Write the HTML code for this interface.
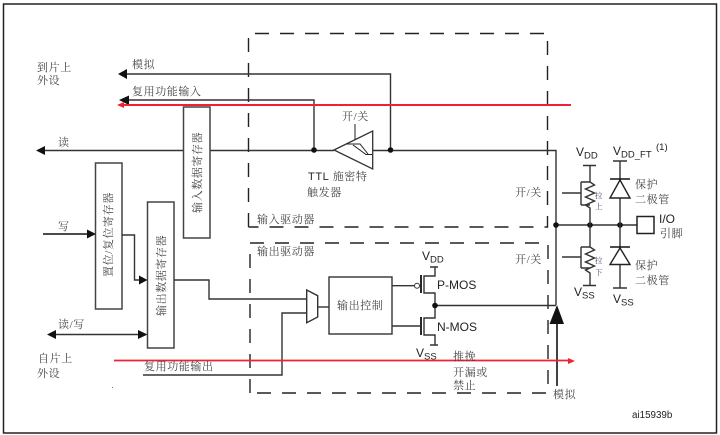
<!DOCTYPE html>
<html>
<head>
<meta charset="utf-8">
<style>
html,body{margin:0;padding:0;background:#fff;width:720px;height:435px;overflow:hidden}
svg{display:block;filter:blur(.3px)}
.z{font-family:"Liberation Serif","Noto Serif CJK SC",serif;font-size:11px;fill:#444;letter-spacing:.6px}
.s{font-family:"Liberation Sans",sans-serif;font-size:12px;fill:#222}
.sub{font-size:9.500px}
.l{fill:none;stroke:#333;stroke-width:1.400}
.k{fill:none;stroke:#111;stroke-width:1.600}
.d{fill:none;stroke:#222;stroke-width:1.400;stroke-dasharray:14 11}
.b{fill:#fff;stroke:#444;stroke-width:1.500}
.a{fill:#111;stroke:none}
</style>
</head>
<body>
<svg width="720" height="435" viewBox="0 0 720 435" xmlns="http://www.w3.org/2000/svg">
<rect width="720" height="435" fill="#fff"/>
<rect x="3.500" y="4" width="713" height="429" fill="none" stroke="#222" stroke-width="1.500"/>

<!-- dashed boxes -->
<path class="d" d="M248.500 227V33.500H547.500V227H248.500"/>
<path class="d" d="M250 393V243H548V393H250"/>

<!-- top connectors -->
<path class="l" d="M126 74H390.500V150"/>
<polygon class="a" points="118,74 127,69 127,79"/>
<path class="l" d="M127 100H314V150"/>
<polygon class="a" points="119,100 129,95.500 129,105"/>
<path class="l" d="M44 150.500H334M372 150.500H556V305"/>
<polygon class="a" points="36,150.500 45,146 45,155"/>
<circle cx="314" cy="150" r="2.800" fill="#111"/>
<circle cx="390.500" cy="150" r="2.800" fill="#111"/>

<!-- schmitt -->
<polygon points="334,150 372.700,131 372.700,169" fill="#fff" stroke="#333" stroke-width="1.300"/>
<path d="M355 124V140M346 144H360L368 154M353 145L366 154.500H372" fill="none" stroke="#222" stroke-width="1"/>

<!-- registers -->
<rect class="b" x="183.500" y="107" width="26.500" height="131"/>
<rect class="b" x="95.500" y="163" width="26.500" height="146"/>
<rect class="b" x="147.500" y="202" width="26.500" height="146"/>

<!-- left connectors -->
<path class="k" d="M43 234H88"/>
<polygon class="a" points="96,234 87,229.500 87,238.500"/>
<path class="l" d="M122 235H134.500V280H140"/>
<polygon class="a" points="147.500,280 139,275.500 139,284.500"/>
<path class="l" d="M54 334.500H140"/>
<polygon class="a" points="47,334.500 56,330 56,339"/>
<polygon class="a" points="147.500,334.500 138,330 138,339"/>
<path class="l" d="M174 280H209V299H306.500"/>
<path class="l" d="M143 375H282V313H306.500"/>
<rect x="112" y="387" width="1" height="1" fill="#777"/>

<!-- mux & control -->
<polygon points="306.700,290 317.700,295.700 317.700,317 306.700,322.700" fill="#fff" stroke="#333" stroke-width="1.400"/>
<path class="l" d="M317.700 307H329"/>
<rect x="329" y="277" width="63" height="57" fill="#fff" stroke="#333" stroke-width="1.400"/>

<!-- MOS -->
<path class="l" d="M392 285.700H415"/>
<circle cx="417" cy="285.700" r="2.500" fill="#fff" stroke="#333" stroke-width="1"/>
<path d="M421 275V293M421 317V335" fill="none" stroke="#111" stroke-width="1.800"/>
<path class="l" d="M430 267H438M435 267V276H424V293H435V318H424V335H435V345M430 345H438"/>
<path class="l" d="M392 326H421"/>
<path class="l" d="M435 305.500H556"/>
<circle cx="435" cy="305.500" r="2.800" fill="#111"/>

<!-- analog up arrow -->
<path class="k" d="M557 320V386"/>
<polygon class="a" points="557,305 549.500,324 564,324"/>

<!-- right rail -->
<path class="l" d="M556 225H637"/>
<rect x="637" y="216.500" width="17" height="17" fill="#fff" stroke="#222" stroke-width="1.500"/>
<circle cx="556" cy="225" r="2.800" fill="#111"/>
<circle cx="590" cy="225" r="2.800" fill="#111"/>
<circle cx="620" cy="225" r="2.800" fill="#111"/>

<!-- pull up/down -->
<path class="l" d="M583 165.500H596M590 165.500V182L594.500 185L585.500 189L594.500 193L585.500 197L594.500 201L585.500 205L590 208V225"/>
<path class="l" d="M562 193H581M581 182V205M581 182H590M581 205H590"/>
<path class="l" d="M590 225V247L594.500 250L585.500 254L594.500 258L585.500 262L594.500 266L585.500 270L590 273V285.500M583 285.500H596"/>
<path class="l" d="M562 257H581M581 247V268M581 247H590M581 268H590"/>

<!-- diodes -->
<path class="l" d="M613 161H627M620 161V288M613 288H627"/>
<polygon points="620,180 630,198 610,198" fill="#fff" stroke="#222" stroke-width="1.400"/>
<path class="k" d="M610 179H630"/>
<polygon points="620,248 630,264.500 610,264.500" fill="#fff" stroke="#222" stroke-width="1.400"/>
<path class="k" d="M610 247H630"/>

<!-- red lines -->
<path d="M122 105H571" stroke="#ee2233" stroke-width="2" fill="none"/>
<polygon points="117,105 124,102 124,108" fill="#ee2233"/>
<path d="M114 360.500H570" stroke="#ee2233" stroke-width="1.800" fill="none"/>
<polygon points="575,361 568,358 568,364" fill="#ee2233"/>

<!-- labels -->
<text class="z" x="37" y="71">到片上</text>
<text class="z" x="37" y="84">外设</text>
<text class="z" x="132" y="68">模拟</text>
<text class="z" x="132" y="95">复用功能输入</text>
<text class="z" x="58" y="146">读</text>
<text class="z" x="58" y="230">写</text>
<text class="z" x="58" y="328">读/写</text>
<text class="z" x="38" y="362">自片上</text>
<text class="z" x="37" y="377">外设</text>
<text class="z" x="144" y="370">复用功能输出</text>
<text class="z" x="342" y="120">开/关</text>
<text class="z" x="308" y="180"><tspan font-family="Liberation Sans" fill="#222">TTL</tspan> 施密特</text>
<text class="z" x="307" y="196">触发器</text>
<text class="z" x="257" y="223">输入驱动器</text>
<text class="z" x="257" y="255">输出驱动器</text>
<text class="z" x="337" y="309">输出控制</text>
<text class="z" x="515" y="196">开/关</text>
<text class="z" x="515" y="263">开/关</text>
<text class="z" x="453" y="360">推挽</text>
<text class="z" x="453" y="376">开漏或</text>
<text class="z" x="453" y="389">禁止</text>
<text class="z" x="553" y="398">模拟</text>
<text class="z" x="635" y="188">保护</text>
<text class="z" x="635" y="203">二极管</text>
<text class="z" x="660" y="237">引脚</text>
<text class="z" x="635" y="269">保护</text>
<text class="z" x="635" y="284">二极管</text>
<text class="z" style="font-size:7.500px;fill:#446" x="595" y="198">拉</text>
<text class="z" style="font-size:7.500px;fill:#446" x="595" y="209">上</text>
<text class="z" style="font-size:7.500px;fill:#446" x="595" y="263">拉</text>
<text class="z" style="font-size:7.500px;fill:#446" x="595" y="275">下</text>

<text class="z" transform="translate(201,213) rotate(-90)">输入数据寄存器</text>
<text class="z" transform="translate(112,277) rotate(-90)">置位/复位寄存器</text>
<text class="z" transform="translate(165,316) rotate(-90)">输出数据寄存器</text>

<text class="s" x="437" y="289">P-MOS</text>
<text class="s" x="437" y="331">N-MOS</text>
<text class="s" x="422" y="260">V<tspan class="sub" dy="2.500">DD</tspan></text>
<text class="s" x="416" y="357">V<tspan class="sub" dy="2.500">SS</tspan></text>
<text class="s" x="576" y="156">V<tspan class="sub" dy="2.500">DD</tspan></text>
<text class="s" x="613" y="155">V<tspan class="sub" dy="2.500">DD_FT</tspan></text>
<text class="s" style="font-size:9.500px" x="656" y="150">(1)</text>
<text class="s" x="574" y="296">V<tspan class="sub" dy="2.500">SS</tspan></text>
<text class="s" x="613" y="303">V<tspan class="sub" dy="2.500">SS</tspan></text>
<text class="s" x="659" y="223">I/O</text>
<text class="s" style="font-size:9.800px" x="632" y="418">ai15939b</text>
</svg>
</body>
</html>
